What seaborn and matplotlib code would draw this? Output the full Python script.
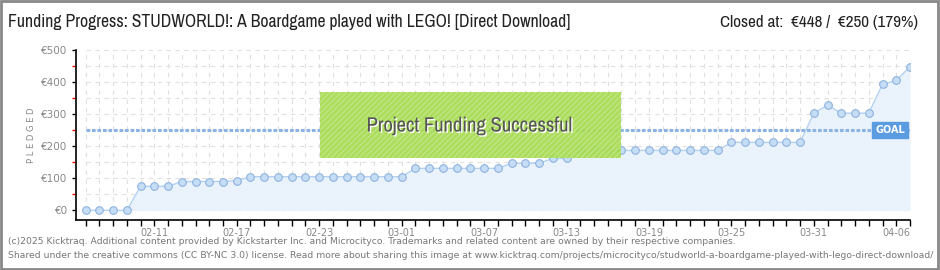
import matplotlib
matplotlib.use("Agg")
import matplotlib.pyplot as plt
import matplotlib.patheffects as pe
from matplotlib import font_manager
from matplotlib.patches import Rectangle
import matplotlib.transforms as mtransforms
import numpy as np
import pandas as pd
import seaborn as sns

# ---- data ----
start_date = "2025-02-06"
pledged = [0, 0, 0, 0, 75, 75, 75, 90, 90, 90, 90, 93,
           105, 105, 105, 105, 105, 105, 105, 105, 105, 105, 105, 105,
           131, 131, 131, 131, 131, 131, 131,
           147, 147, 147, 162, 162,
           187, 187, 187, 187, 187, 187, 187, 187, 187, 187, 187,
           212, 212, 212, 212, 212, 212,
           303, 328, 303, 303, 303, 393, 405, 448]
goal = 250
yticks = [0, 100, 200, 300, 400, 500]
ytick_labels = ["€0", "€100", "€200", "€300", "€400", "€500"]
title_left = "Funding Progress: STUDWORLD!: A Boardgame played with LEGO! [Direct Download]"
title_right = "Closed at:  €448 /  €250 (179%)"
banner = "Project Funding Successful"
footer1 = ("(c)2025 Kicktraq. Additional content provided by Kickstarter Inc. and Microcityco. "
           "Trademarks and related content are owned by their respective companies.")
footer2 = ("Shared under the creative commons (CC BY-NC 3.0) license. Read more about sharing this image at "
           "www.kicktraq.com/projects/microcityco/studworld-a-boardgame-played-with-lego-direct-download/")

dates = pd.date_range(start_date, periods=len(pledged), freq="D")
df = pd.DataFrame({"idx": np.arange(len(pledged)), "pledged": pledged})
label_idx = list(range(5, len(pledged), 6))

sns.set_theme(style="white")
plt.rcParams["font.family"] = ["DejaVu Sans"]

# pick a narrow face if one is installed
narrow_family, narrow_stretch = "DejaVu Sans", "normal"
for f in font_manager.fontManager.ttflist:
    if "Narrow" in f.name or "Condensed" in f.name:
        narrow_family, narrow_stretch = f.name, "normal"
        break
else:
    for f in font_manager.fontManager.ttflist:
        if f.name == "DejaVu Sans" and str(f.stretch) in ("condensed", "semi-condensed", "600", "700"):
            narrow_stretch = "condensed"
            break

fig = plt.figure(figsize=(9.4, 2.7), dpi=100)
fig.patch.set_facecolor("white")
ax = fig.add_axes([76 / 940, 1 - 220 / 270, 834 / 940, 170 / 270])
ax.set_facecolor("none")

n = len(pledged)
# grid
ax.vlines(df["idx"], 0, 500, colors="#e0e0e0", linestyles=(0, (4, 4)), lw=0.8, zorder=0)
ax.hlines(np.arange(0, 501, 50), 0, n - 1, colors="#e0e0e0", linestyles=(0, (4, 4)), lw=0.8, zorder=0)

# fill + line
ax.fill_between(df["idx"], 0, df["pledged"], color="#eaf2fc", zorder=1, lw=0)
sns.lineplot(data=df, x="idx", y="pledged", ax=ax, color="#b3d1f2", lw=1, zorder=3,
             marker="o", markersize=5.5, markerfacecolor="#c6ddf6",
             markeredgecolor="#8eb2de", markeredgewidth=0.8)

# goal
ax.hlines(goal, 0, n - 1, colors="#8ab3e6", linestyles=(0, (1.2, 0.6)), lw=2.2, zorder=2)
trans = mtransforms.blended_transform_factory(ax.transAxes, ax.transData)
ax.text(0.976, goal, "GOAL", transform=trans, ha="center", va="center", fontsize=7,
        color="white", fontweight="bold",
        bbox=dict(boxstyle="square,pad=0.3", fc="#5b9be0", ec="#5b9be0"), zorder=6)

ax.set_xlim(-0.7, n - 1)
ax.set_ylim(-30, 500)
ax.set_xticks(df["idx"])
ax.set_xticklabels([dates[i].strftime("%m-%d") if i in label_idx else "" for i in range(n)],
                   fontsize=7, color="#888888")
ax.set_yticks(yticks)
ax.set_yticklabels(ytick_labels, fontsize=7.5, color="#888888")
ax.set_yticks(np.arange(50, 500, 100), minor=True)
ax.tick_params(axis="y", which="major", length=3, width=1, color="black", direction="out", pad=3, left=True)
ax.tick_params(axis="y", which="minor", length=3, width=1, color="red", direction="out", left=True)
ax.tick_params(axis="x", which="major", length=4, width=1, color="black", direction="out", pad=2, bottom=True)
for s in ["top", "right"]:
    ax.spines[s].set_visible(False)
for s in ["left", "bottom"]:
    ax.spines[s].set_color("black")
    ax.spines[s].set_linewidth(1.2)
ax.set_xlabel("")
ax.set_ylabel("P L E D G E D", fontsize=6, color="#888888", labelpad=4)

# success banner
rect = Rectangle((320 / 940, 1 - 158 / 270), 301 / 940, 66 / 270, transform=fig.transFigure,
                 facecolor="#a6db4c", edgecolor="#bfe68a", hatch="//////", lw=0, alpha=0.92, zorder=10)
fig.patches.append(rect)
t_banner = fig.text(470 / 940, 1 - 126 / 270, banner, ha="center", va="center", fontsize=13,
                    family=narrow_family, stretch=narrow_stretch, color="#555555", zorder=11,
                    path_effects=[pe.withSimplePatchShadow(offset=(1, -1), shadow_rgbFace="white", alpha=1)])

# titles
t_left = fig.text(8 / 940, 1 - 22 / 270, title_left, ha="left", va="center", fontsize=12.5,
                  family=narrow_family, stretch=narrow_stretch, color="#222222")
t_right = fig.text(918 / 940, 1 - 22 / 270, title_right, ha="right", va="center", fontsize=12.5,
                   family=narrow_family, stretch=narrow_stretch, color="#222222")

# footer
t_f1 = fig.text(8 / 940, 1 - 242 / 270, footer1, ha="left", va="center", fontsize=6.6, color="#777777")
t_f2 = fig.text(8 / 940, 1 - 255 / 270, footer2, ha="left", va="center", fontsize=6.6, color="#777777")

# fit text widths to the reference layout
renderer = fig.canvas.get_renderer()
for t, w in [(t_banner, 207), (t_left, 565), (t_right, 200), (t_f1, 727)]:
    cur = t.get_window_extent(renderer).width
    t.set_fontsize(t.get_fontsize() * w / cur)
t_f2.set_fontsize(t_f1.get_fontsize())

# border
fig.patches.append(Rectangle((0.001, 0.002), 0.997, 0.996, transform=fig.transFigure,
                             fill=False, edgecolor="#888888", lw=2, zorder=20))

fig.savefig("out.png", dpi=100)
